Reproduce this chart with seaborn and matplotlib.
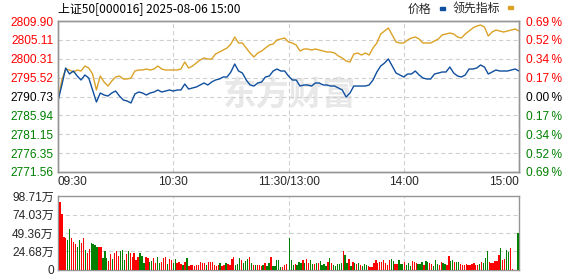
import numpy as np
import pandas as pd
import matplotlib
matplotlib.use("Agg")
import matplotlib.pyplot as plt
from matplotlib.patches import Rectangle
import seaborn as sns

# ---------------- data ----------------
title = "上证50[000016] 2025-08-06 15:00"
prev_close = 2790.73
price_ticks = [2771.56, 2776.35, 2781.15, 2785.94, 2790.73, 2795.52, 2800.31, 2805.11, 2809.90]
time_labels = ["09:30", "10:30", "11:30/13:00", "14:00", "15:00"]
time_ticks = [0, 60, 120, 180, 240]
vol_ticks = [0, 24.68, 49.36, 74.03, 98.71]

# sampled every 2 minutes, 09:30 .. 15:00
price = [2789.59, 2793.65, 2797.96, 2796.44, 2797.20, 2795.93, 2794.92, 2796.19, 2795.43, 2792.38,
         2789.33, 2791.62, 2791.11, 2790.85, 2791.62, 2792.12, 2790.85, 2789.84, 2789.59, 2789.08,
         2791.36, 2791.87, 2791.62, 2791.11, 2791.62, 2791.87, 2792.38, 2791.87, 2792.12, 2792.38,
         2792.12, 2792.38, 2792.38, 2793.90, 2792.63, 2792.89, 2793.14, 2793.65, 2794.16, 2793.65,
         2794.41, 2794.92, 2795.17, 2795.68, 2795.68, 2796.95, 2798.98, 2797.20, 2796.69, 2794.92,
         2793.65, 2793.39, 2794.16, 2794.41, 2795.68, 2795.93, 2797.20, 2797.71, 2797.20, 2797.20,
         2795.93, 2794.92, 2794.92, 2793.39, 2793.65, 2793.65, 2793.39, 2794.16, 2794.16, 2793.65,
         2793.65, 2793.39, 2793.39, 2792.89, 2792.38, 2790.60, 2791.62, 2793.39, 2793.39, 2793.39,
         2793.39, 2793.65, 2794.92, 2796.95, 2798.47, 2799.23, 2800.25, 2798.47, 2796.69, 2796.19,
         2795.68, 2796.44, 2796.44, 2797.20, 2796.19, 2795.43, 2795.17, 2795.17, 2796.44, 2796.69,
         2796.95, 2796.95, 2798.22, 2796.69, 2795.93, 2795.68, 2796.19, 2797.71, 2797.71, 2797.96,
         2798.73, 2798.22, 2796.44, 2796.95, 2797.46, 2797.20, 2797.20, 2797.20, 2797.46, 2797.71,
         2797.20]

leading = [2789.84, 2794.92, 2797.71, 2797.46, 2796.95, 2797.46, 2797.20, 2798.47, 2797.96, 2796.44,
           2792.38, 2795.93, 2794.41, 2793.39, 2794.66, 2795.68, 2795.93, 2795.17, 2795.17, 2795.43,
           2797.20, 2797.46, 2797.46, 2797.71, 2797.46, 2797.71, 2798.47, 2797.71, 2797.46, 2797.46,
           2797.46, 2797.46, 2797.71, 2799.49, 2797.96, 2798.47, 2799.23, 2800.00, 2800.50, 2800.25,
           2800.25, 2801.52, 2802.03, 2802.53, 2803.04, 2804.06, 2805.84, 2804.31, 2804.31, 2803.04,
           2801.77, 2800.76, 2801.77, 2802.28, 2803.04, 2803.80, 2804.06, 2805.07, 2805.33, 2805.58,
           2804.57, 2804.31, 2803.80, 2802.28, 2802.79, 2802.79, 2802.53, 2802.79, 2802.53, 2802.28,
           2802.03, 2802.03, 2801.77, 2801.01, 2800.50, 2799.74, 2799.49, 2801.52, 2801.77, 2801.26,
           2801.77, 2801.26, 2803.04, 2804.31, 2806.60, 2807.36, 2808.12, 2806.34, 2804.57, 2804.31,
           2804.31, 2805.07, 2805.58, 2805.84, 2805.33, 2804.31, 2804.31, 2804.31, 2804.82, 2805.33,
           2806.34, 2806.60, 2806.85, 2806.60, 2805.84, 2805.58, 2806.60, 2807.36, 2808.12, 2808.63,
           2808.88, 2808.37, 2806.09, 2807.10, 2807.61, 2807.36, 2807.10, 2807.36, 2807.61, 2807.87,
           2807.36]

# volume (万), morning and afternoon sessions; up = 1 (red), 0 (green)
vol_am = [91.1, 74.7, 44.4, 42.2, 40.0, 54.7, 42.2, 37.8, 34.7, 31.1,
          40.0, 36.4, 42.2, 26.7, 22.2, 27.6, 36.4, 34.7, 33.4, 31.1,
          30.2, 30.2, 15.6, 25.3, 15.6, 12.4, 21.3, 14.2, 23.1, 25.3,
          18.7, 25.3, 26.7, 13.3, 21.3, 25.3, 23.1, 17.8, 23.1, 13.3,
          17.8, 23.1, 18.7, 8.9, 17.8, 16.5, 11.1, 12.4, 15.6, 9.8,
          17.8, 8.9, 11.1, 15.6, 17.8, 8.0, 14.2, 13.3, 8.9, 14.2,
          8.9, 11.1, 8.0, 6.7, 11.1, 15.6, 5.3, 6.7, 6.7, 5.3,
          6.7, 6.7, 11.1, 9.8, 9.8, 6.7, 11.1, 11.1, 11.1, 6.7,
          5.3, 6.7, 9.8, 5.3, 6.7, 9.8, 8.0, 6.7, 14.2, 17.8,
          6.7, 8.0, 15.6, 13.3, 9.8, 12.4, 14.2, 17.8, 8.9, 6.7,
          6.7, 6.7, 6.7, 5.3, 6.7, 9.8, 5.3, 8.9, 17.8, 5.3,
          5.3, 13.3, 13.3, 4.4, 3.6, 6.7, 8.0]
up_am = [1, 1, 1, 1, 0, 0, 1, 1, 1, 0,
         0, 1, 1, 0, 1, 1, 0, 0, 0, 0,
         1, 1, 0, 0, 0, 1, 1, 0, 1, 1,
         1, 0, 0, 0, 1, 0, 1, 1, 1, 1,
         1, 0, 0, 0, 1, 1, 0, 0, 1, 1,
         0, 0, 1, 1, 1, 0, 1, 1, 0, 0,
         1, 1, 1, 0, 1, 0, 1, 1, 1, 1,
         1, 1, 1, 1, 1, 0, 1, 1, 1, 1,
         1, 1, 0, 1, 1, 0, 1, 1, 1, 1,
         0, 0, 0, 1, 0, 0, 0, 1, 0, 1,
         0, 1, 1, 1, 0, 1, 0, 0, 1, 0,
         0, 0, 0, 0, 1, 1, 1]
vol_pm = [42.2, 13.3, 6.7, 8.0, 6.7, 11.1, 9.8, 13.3, 9.8, 14.7,
          9.8, 13.3, 8.0, 8.0, 8.9, 9.8, 12.4, 6.7, 8.0, 5.3,
          11.1, 16.5, 9.8, 6.7, 5.3, 8.0, 8.0, 9.8, 25.8, 20.0,
          9.8, 14.7, 5.3, 11.1, 9.8, 8.0, 9.8, 6.7, 5.3, 8.0,
          6.7, 5.3, 4.4, 4.4, 9.8, 13.3, 9.8, 11.1, 11.1, 13.3,
          8.9, 6.7, 13.3, 14.7, 12.0, 8.0, 8.0, 13.3, 8.0, 8.0,
          11.1, 6.7, 9.8, 5.3, 12.0, 11.1, 8.9, 8.0, 8.0, 11.1,
          6.7, 12.4, 11.1, 9.8, 8.0, 5.3, 13.3, 8.0, 6.7, 11.1,
          9.8, 8.0, 6.7, 18.7, 12.4, 13.3, 11.1, 11.1, 11.1, 8.0,
          6.7, 6.7, 8.0, 6.7, 6.7, 8.0, 8.9, 6.7, 6.7, 8.0,
          11.1, 9.8, 15.6, 25.3, 11.1, 9.8, 9.8, 12.4, 12.0, 20.0,
          28.9, 13.3, 14.7, 26.7, 24.4, 29.8, 1.3, 0, 0, 49.8]
up_pm = [0, 0, 0, 1, 0, 0, 0, 1, 0, 1,
         1, 0, 0, 1, 0, 1, 0, 0, 0, 0,
         1, 0, 1, 0, 0, 0, 0, 0, 1, 0,
         0, 1, 0, 1, 0, 1, 0, 1, 0, 0,
         0, 1, 1, 1, 1, 1, 1, 1, 1, 1,
         1, 1, 1, 0, 0, 1, 1, 0, 0, 0,
         1, 0, 0, 0, 1, 1, 1, 0, 0, 0,
         1, 0, 0, 1, 1, 0, 0, 0, 1, 1,
         0, 0, 1, 1, 0, 0, 1, 0, 0, 1,
         1, 1, 1, 1, 1, 1, 1, 1, 1, 0,
         1, 0, 0, 0, 1, 1, 1, 1, 1, 1,
         0, 1, 1, 0, 0, 1, 1, 1, 1, 0]

# ---------------- style ----------------
sns.set_style("white")
plt.rcParams["font.family"] = ["Liberation Sans", "Noto Sans CJK SC", "DejaVu Sans"]
plt.rcParams["lines.scale_dashes"] = False
CJK = ["Noto Sans CJK SC", "DejaVu Sans"]
RED, GREEN, BLACK = "#ff0000", "#008000", "#000000"
BLUE_LINE, GOLD_LINE = "#0f4f9e", "#dba226"
GRID = "#cfcfcf"
FRAME = "#959595"
FS = 8.6

W, H = 578, 276
fig = plt.figure(figsize=(W / 100, H / 100), dpi=100)
ax = fig.add_axes([58 / W, (H - 172) / H, 461 / W, 151 / H])
axv = fig.add_axes([58 / W, (H - 270) / H, 461 / W, 74 / H])

n = len(price)
t = np.linspace(0, 240, n)
df = pd.DataFrame({"t": t, "price": price, "leading": leading})

# watermark
ax.text(0.50, 0.50, "东方财富", transform=ax.transAxes, ha="center", va="center",
        fontsize=24, fontweight="bold", color="#e8e8e8", family=CJK, zorder=0)

sns.lineplot(data=df, x="t", y="leading", ax=ax, color=GOLD_LINE, lw=1.0, zorder=3)
sns.lineplot(data=df, x="t", y="price", ax=ax, color=BLUE_LINE, lw=1.0, zorder=4)

ax.set_xlim(0, 240)
ax.set_ylim(price_ticks[0], price_ticks[-1])
ax.set_yticks(price_ticks)
ax.set_yticklabels([f"{v:.2f}" for v in price_ticks])
ax.set_xticks(time_ticks)
ax.set_xticklabels(time_labels)
ax.set_xlabel("")
ax.set_ylabel("")
ax.tick_params(axis="both", length=0, labelsize=FS)
ax.tick_params(axis="y", pad=3)
ax.tick_params(axis="x", pad=3)
for lab, v in zip(ax.get_yticklabels(), price_ticks):
    lab.set_color(RED if v > prev_close + 1e-6 else (BLACK if abs(v - prev_close) < 1e-6 else GREEN))
xl = ax.get_xticklabels()
xl[0].set_ha("left")
xl[-1].set_ha("right")

for v in price_ticks[1:-1]:
    ax.axhline(v, color=GRID, lw=0.8, ls=(0, (3, 2.2)), zorder=1)
for v in time_ticks[1:-1]:
    ax.axvline(v, color=GRID, lw=0.8, ls=(0, (3, 2.2)), zorder=1)

ax2 = ax.twinx()
ax2.set_ylim(ax.get_ylim())
ax2.set_yticks(price_ticks)
pct = [abs(v - prev_close) / prev_close * 100 for v in price_ticks]
ax2.set_yticklabels([f"{p:.2f}\u2009%" for p in pct])
ax2.tick_params(axis="y", length=0, labelsize=FS, pad=5)
for lab, v in zip(ax2.get_yticklabels(), price_ticks):
    lab.set_color(RED if v > prev_close + 1e-6 else (BLACK if abs(v - prev_close) < 1e-6 else GREEN))

for a in (ax, ax2, axv):
    for s in a.spines.values():
        s.set_color(FRAME)
        s.set_linewidth(1.0)

# volume
pos_am = np.linspace(1, 119, len(vol_am))
pos_pm = np.linspace(120.5, 239.5, len(vol_pm))
pos = np.concatenate([pos_am, pos_pm])
vols = np.array(vol_am + vol_pm)
ups = np.array(up_am + up_pm)
colors = np.where(ups == 1, RED, GREEN)
axv.bar(pos, vols, width=0.7, color=colors, linewidth=0, zorder=3, antialiased=False)
axv.set_xlim(0, 240)
axv.set_ylim(0, vol_ticks[-1])
axv.set_yticks(vol_ticks)
axv.set_yticklabels(["0"] + [f"{v:.2f}万" for v in vol_ticks[1:]])
axv.set_xticks([])
axv.tick_params(axis="y", length=0, labelsize=FS, pad=3)
for v in vol_ticks[1:-1]:
    axv.axhline(v, color=GRID, lw=0.8, ls=(0, (3, 2.2)), zorder=1)
for v in time_ticks[1:-1]:
    axv.axvline(v, color=GRID, lw=0.8, ls=(0, (3, 2.2)), zorder=1)

# title & legend
fig.text(58 / W, 1 - 9 / H, title, ha="left", va="center", fontsize=8.6, family=CJK, color="#000000")
fig.text(408 / W, 1 - 9.5 / H, "价格", ha="left", va="center", fontsize=8.6, family=CJK)
fig.patches.append(Rectangle((440 / W, 1 - 10 / H), 5 / W, 3 / H, transform=fig.transFigure,
                             color=BLUE_LINE, figure=fig))
fig.text(453 / W, 1 - 9.5 / H, "领先指标", ha="left", va="center", fontsize=8.6, family=CJK)
fig.patches.append(Rectangle((508 / W, 1 - 9 / H), 5 / W, 3 / H, transform=fig.transFigure,
                             color=GOLD_LINE, figure=fig))

fig.savefig("out.png", dpi=100)
